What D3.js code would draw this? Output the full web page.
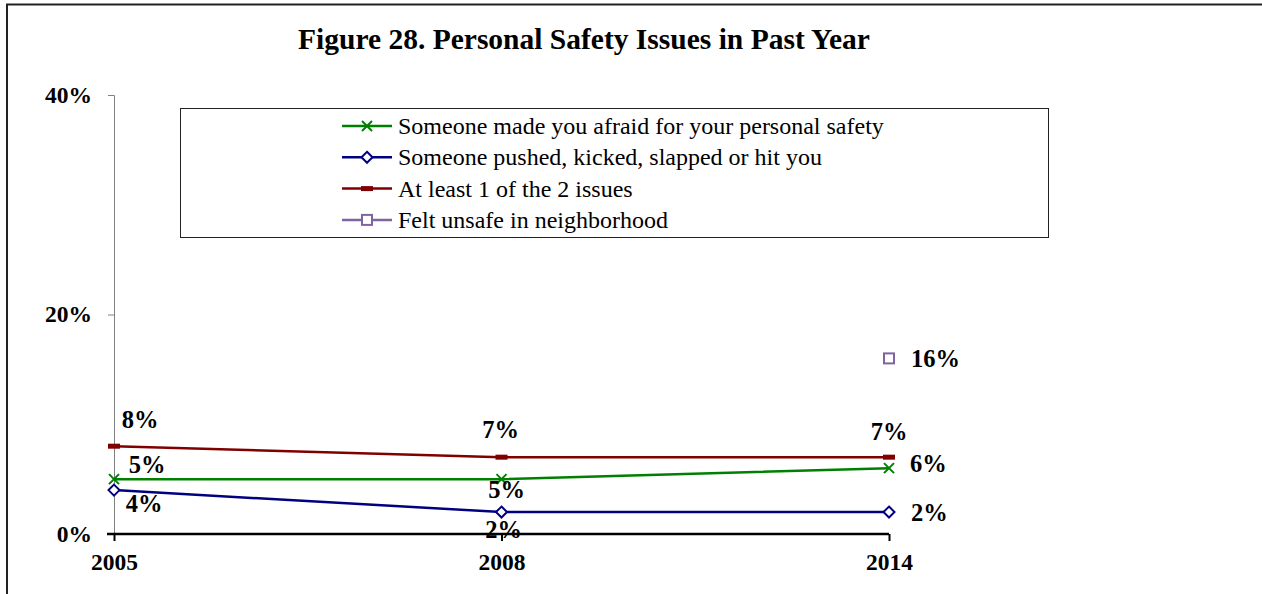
<!DOCTYPE html>
<html><head><meta charset="utf-8">
<script src="https://cdn.jsdelivr.net/npm/d3@7"></script>
<style>body{margin:0;background:#fff}svg{display:block;font-family:"Liberation Serif","Times New Roman",serif}</style>
</head><body>
<svg id="c" width="1262" height="594"></svg>
<script>
const years = ["2005", "2008", "2014"];
const afraid = [5, 5, 6];
const pushed = [4, 2, 2];
const atLeastOne = [8, 7, 7];
const unsafe = [null, null, 16];
const yTicks = [0, 20, 40];
const seriesNames = ["Someone made you afraid for your personal safety","Someone pushed, kicked, slapped or hit you","At least 1 of the 2 issues","Felt unsafe in neighborhood"];

const svg = d3.select("#c");
svg.append("rect").attr("x",7).attr("y",4.5).attr("width",1262).attr("height",600).attr("fill","none").attr("stroke","#222").attr("stroke-width",2);

svg.append("text").attr("x",584).attr("y",49).attr("text-anchor","middle").attr("font-weight","bold").attr("font-size",29.5).text("Figure 28. Personal Safety Issues in Past Year");

const x = d3.scalePoint().domain(years).range([114, 889]);
const y = d3.scaleLinear().domain([0, 40]).range([534, 95]);

const ya = svg.append("g").attr("transform","translate(114,0)").call(d3.axisLeft(y).tickValues(yTicks).tickFormat(d=>d+"%").tickSize(6).tickPadding(16));
ya.select(".domain").attr("stroke","#808080").attr("d","M-6,95.5H0.5V534");
ya.selectAll(".tick line").attr("stroke","#808080");
ya.selectAll(".tick text").attr("font-size",23.5).attr("font-weight","bold").attr("font-family","Liberation Serif").attr("fill","#000").attr("dy",null).attr("y",7);

const xa = svg.append("g").attr("transform","translate(0,534)").call(d3.axisBottom(x).tickSize(7).tickPadding(18));
xa.select(".domain").attr("stroke","#000").attr("stroke-width",2.5).attr("d","M107,0H889");
xa.selectAll(".tick line").attr("stroke","#000").attr("stroke-width",2);
xa.selectAll(".tick text").attr("font-size",23.5).attr("font-weight","bold").attr("font-family","Liberation Serif").attr("fill","#000").attr("dy",null).attr("y",36);

const colors = ["#008000","#000080","#800000","#8064A2"];
const data = [afraid, pushed, atLeastOne, unsafe];
const line = d3.line().defined(d=>d.v!=null).x(d=>x(d.k)).y(d=>y(d.v));

function marker(g, i, cx, cy){
  const c = colors[i];
  if(i===0){
    g.append("path").attr("d",`M${cx-5},${cy-5}L${cx+5},${cy+5}M${cx-5},${cy+5}L${cx+5},${cy-5}`).attr("stroke",c).attr("stroke-width",2).attr("fill","none");
  } else if(i===1){
    g.append("path").attr("d",`M${cx},${cy-5.5}L${cx+5.5},${cy}L${cx},${cy+5.5}L${cx-5.5},${cy}Z`).attr("stroke",c).attr("stroke-width",2).attr("fill","#fff");
  } else if(i===2){
    g.append("rect").attr("x",cx-6).attr("y",cy-2.5).attr("width",12).attr("height",5).attr("fill",c);
  } else {
    g.append("rect").attr("x",cx-5).attr("y",cy-5).attr("width",10).attr("height",10).attr("stroke",c).attr("stroke-width",2).attr("fill","#fff");
  }
}

const plot = svg.append("g");
data.forEach((arr,i)=>{
  const pts = years.map((k,j)=>({k, v:arr[j]}));
  plot.append("path").datum(pts).attr("d",line).attr("fill","none").attr("stroke",colors[i]).attr("stroke-width",2.5);
  pts.filter(p=>p.v!=null).forEach(p=>marker(plot,i,x(p.k),y(p.v)));
});

const lblOff = [
  [[33,-6,"middle"],[5,19,"middle"],[21,4,"start"]],
  [[30,22,"middle"],[2,26,"middle"],[22,9,"start"]],
  [[26,-18,"middle"],[-1,-19,"middle"],[0,-17,"middle"]],
  [null,null,[22,9,"start"]]
];
const lg = svg.append("g").attr("font-weight","bold").attr("font-size",24.5);
data.forEach((arr,i)=>{
  arr.forEach((v,j)=>{
    if(v==null) return;
    const o = lblOff[i][j];
    lg.append("text").attr("x",x(years[j])+o[0]).attr("y",y(v)+o[1]).attr("text-anchor",o[2]).text(v+"%");
  });
});

const leg = svg.append("g");
leg.append("rect").attr("x",180.5).attr("y",108.5).attr("width",868).attr("height",129).attr("fill","#fff").attr("stroke","#222").attr("stroke-width",1);
seriesNames.forEach((n,i)=>{
  const cy = 126 + i*31.3;
  leg.append("line").attr("x1",342).attr("x2",392).attr("y1",cy).attr("y2",cy).attr("stroke",colors[i]).attr("stroke-width",2.5);
  marker(leg,i,367,cy);
  leg.append("text").attr("x",398).attr("y",cy+8).attr("font-size",24).text(n);
});
</script>
</body></html>
